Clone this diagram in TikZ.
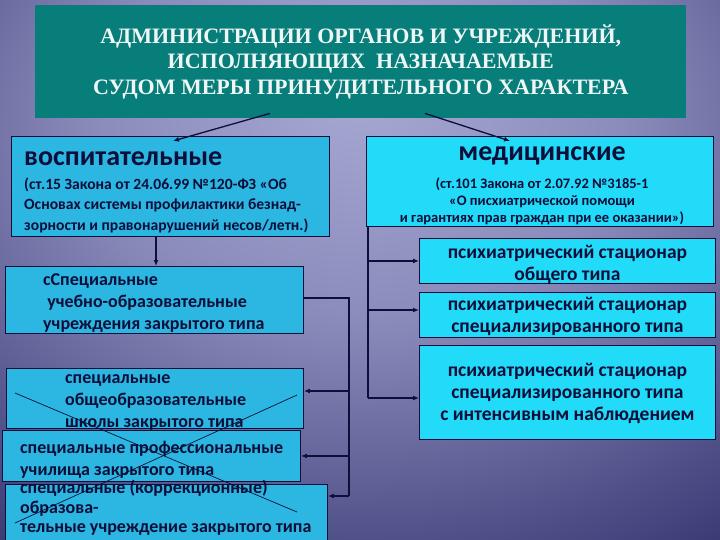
\documentclass[tikz,border=0pt]{standalone}
\usepackage{fontspec}
\setmainfont{Carlito}
\newfontfamily\titlefont{Liberation Serif}
\usetikzlibrary{arrows.meta,calc}
\definecolor{bgdark}{HTML}{1C1C5C}
\definecolor{bglight}{HTML}{A8A8D4}
\definecolor{teal1}{HTML}{087E7B}
\definecolor{cyanL}{HTML}{2BB7E1}
\definecolor{cyanR}{HTML}{21DBF8}
\definecolor{navy}{HTML}{0E0E3A}
\definecolor{ttext}{HTML}{EEF6F6}
\pgfdeclareradialshading{bgshade}{\pgfpoint{0bp}{17bp}}{color(0bp)=(bglight); color(18bp)=(bglight!80!bgdark); color(52bp)=(bgdark); color(100bp)=(bgdark)}
\tikzset{
  boxL/.style={draw=navy, line width=0.9pt, fill=cyanL, anchor=north west, inner sep=0pt},
  boxR/.style={draw=navy, line width=0.9pt, fill=cyanR, anchor=north west, inner sep=0pt},
  txt/.style={text=navy, inner sep=0pt, font=\bfseries\fontsize{18}{22}\selectfont},
  txtR/.style={text=navy, inner sep=0pt, align=center, font=\bfseries\fontsize{19.5}{22}\selectfont},
  head/.style={text=navy, inner sep=0pt, font=\bfseries\fontsize{28}{30}\selectfont},
  conn/.style={draw=navy, line width=1.3pt},
  arr/.style={conn, -{Latex[length=6pt,width=5pt]}},
  cross/.style={draw=navy, line width=0.7pt}
}
\begin{document}
\begin{tikzpicture}[x=1pt,y=-1pt]
\useasboundingbox (0,0) rectangle (720,540);
\shade[shading=bgshade] (0,0) rectangle (720,540);

% title
\node[fill=teal1, anchor=north west, minimum width=651pt, minimum height=113pt, inner sep=0pt,
  text=ttext, align=center, font=\titlefont\bfseries\fontsize{22}{25.5}\selectfont] (title) at (35,5)
  {АДМИНИСТРАЦИИ ОРГАНОВ И УЧРЕЖДЕНИЙ,\\ИСПОЛНЯЮЩИХ\ \ НАЗНАЧАЕМЫЕ\\СУДОМ МЕРЫ ПРИНУДИТЕЛЬНОГО ХАРАКТЕРА};

% left column boxes
\node[boxL, minimum width=318pt, minimum height=100pt] (voc) at (11,136) {};
\node[boxL, minimum width=298pt, minimum height=67pt] (spec) at (5,266) {};
\node[boxL, minimum width=297pt, minimum height=60pt] (shk) at (6,368) {};
\node[boxL, minimum width=298pt, minimum height=51pt] (prof) at (2,430) {};
\node[boxL, minimum width=322pt, minimum height=62pt] (korr) at (5,484) {};

% right column boxes
\node[boxR, minimum width=347pt, minimum height=90pt] (med) at (366,136) {};
\node[boxR, minimum width=296pt, minimum height=45pt] (p1) at (419,238) {};
\node[boxR, minimum width=296pt, minimum height=45pt] (p2) at (419,292) {};
\node[boxR, minimum width=296pt, minimum height=94pt] (p3) at (419,345) {};

% texts left
\node[head, anchor=west] (vocH) at (24,159) {воспитательные};
\node[txt, anchor=west, align=left, font=\bfseries\fontsize{15.6}{20.5}\selectfont] (vocT) at (24,205)
  {(ст.15 Закона от 24.06.99 №120-ФЗ «Об\\Основах системы профилактики безнад-\\зорности и правонарушений несов/летн.)};
\node[txt, anchor=west, align=left] (specT) at (43,303)
  {сСпециальные\\\ учебно-образовательные\\учреждения закрытого типа};
\node[txt, anchor=west, align=left] (shkT) at (65,402)
  {специальные\\общеобразовательные\\школы закрытого типа};
\node[txt, anchor=west, align=left] (profT) at (20,460)
  {специальные профессиональные\\училища закрытого типа};
\node[txt, anchor=west, align=left, font=\bfseries\fontsize{18}{19.5}\selectfont] (korrT) at (20,508)
  {специальные (коррекционные)\\образова-\\тельные учреждение закрытого типа};

% texts right
\node[head, anchor=center] (medH) at (542,156) {медицинские};
\node[txt, anchor=center, align=center, font=\bfseries\fontsize{14.5}{17}\selectfont] (medT) at (542,201)
  {(ст.101 Закона от 2.07.92 №3185-1\\«О писхиатрической помощи\\и гарантиях прав граждан при ее оказании»)};
\node[txtR] (p1T) at ($(p1.center)+(0,3)$) {психиатрический стационар\\общего типа};
\node[txtR] (p2T) at ($(p2.center)+(0,1)$) {психиатрический стационар\\специализированного типа};
\node[txtR] (p3T) at ($(p3.center)+(0,1)$) {психиатрический стационар\\специализированного типа\\с интенсивным наблюдением};

% cross over the left lower boxes
\draw[cross] (15,393) -- (297,512);
\draw[cross] (297,395) -- (15,523);

% arrows from title
\coordinate (a1s) at ($(title.south west)+(235,-5)$);
\coordinate (a1e) at ($(voc.north west)+(162,5)$);
\coordinate (a2s) at ($(title.south west)+(390,-5)$);
\coordinate (a2e) at ($(med.north west)+(144,5)$);
\draw[arr] (a1s) -- (a1e);
\draw[arr] (a2s) -- (a2e);

% left trunk
\coordinate (vb) at ($(voc.south west)+(145,0)$);
\draw[arr] (vb) -- (vb |- spec.north);
\coordinate (ltop) at ($(spec.east)+(45,-2)$);
\coordinate (lbot) at (ltop |- 0,496);
\draw[conn] (spec.east |- ltop) -- (ltop) -- (lbot);
\draw[arr] (ltop |- 0,391) -- (shk.east |- 0,391);
\draw[arr] (ltop |- prof.east) -- (prof.east);
\draw[arr] (lbot) -- (korr.east |- lbot);

% right trunk
\coordinate (rtop) at ($(med.south west)+(2,0)$);
\coordinate (rbot) at (rtop |- 0,398);
\draw[conn] (rtop) -- (rbot);
\draw[arr] (rtop |- p1.west) -- (p1.west);
\draw[arr] (rtop |- 0,310) -- (p2.west |- 0,310);
\draw[arr] (rbot) -- (p3.west |- rbot);
\end{tikzpicture}
\end{document}
